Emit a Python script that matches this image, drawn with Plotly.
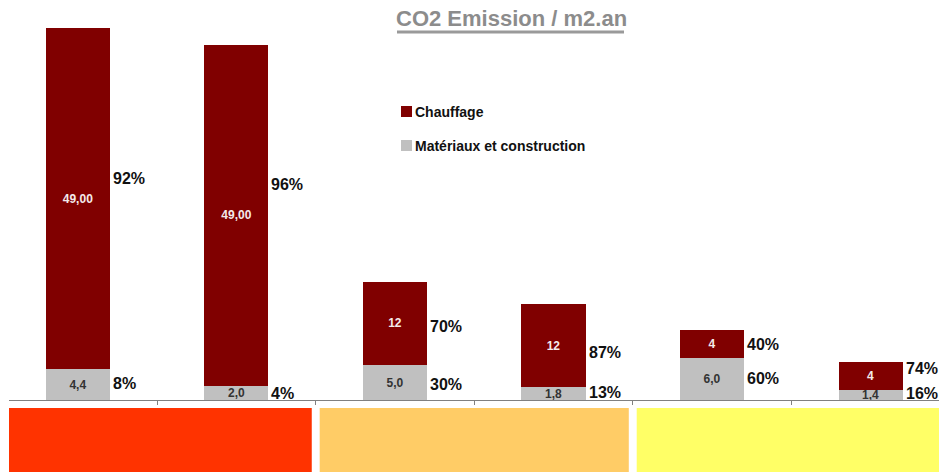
import plotly.graph_objects as go

# ---- data ----
categories = ["A1", "A2", "B1", "B2", "C1", "C2"]
materiaux = [4.4, 2.0, 5.0, 1.8, 6.0, 1.4]
chauffage = [49.0, 49.0, 12.0, 12.0, 4.0, 4.0]
materiaux_labels = ["4,4", "2,0", "5,0", "1,8", "6,0", "1,4"]
chauffage_labels = ["49,00", "49,00", "12", "12", "4", "4"]
pct_chauffage = ["92%", "96%", "70%", "87%", "40%", "74%"]
pct_materiaux = ["8%", "4%", "30%", "13%", "60%", "16%"]
group_colors = ["#FF3300", "#FFCC66", "#FFFF66"]

FONT = "Liberation Sans, Arial, sans-serif"
RED = "#800000"
GREY = "#C0C0C0"
BAR_W = 0.404

fig = go.Figure()
fig.add_trace(go.Bar(
    x=categories, y=materiaux, name="Matériaux et construction",
    marker=dict(color=GREY, line=dict(width=0)), width=BAR_W,
    text=materiaux_labels, textposition="inside", insidetextanchor="middle",
    textangle=0, constraintext="none",
    textfont=dict(family=FONT, size=12, color="#333333", weight="bold"),
    showlegend=False, hoverinfo="skip"))
fig.add_trace(go.Bar(
    x=categories, y=chauffage, name="Chauffage",
    marker=dict(color=RED, line=dict(width=0)), width=BAR_W,
    text=chauffage_labels, textposition="inside", insidetextanchor="middle",
    textangle=0, constraintext="none",
    textfont=dict(family=FONT, size=12, color="#F4EAEA", weight="bold"),
    showlegend=False, hoverinfo="skip"))

# percentage labels right of bars (vertical nudges in px)
heat_shift = [20, 31, -3, -7, 0, 8]
mat_shift = [1, 0, -2, 1, 1, 2]
annotations = []
for i in range(len(categories)):
    annotations.append(dict(
        x=i + BAR_W / 2, y=materiaux[i] + chauffage[i] / 2, xref="x", yref="y",
        text=pct_chauffage[i], showarrow=False, xanchor="left", yanchor="middle",
        xshift=1, yshift=heat_shift[i],
        font=dict(family=FONT, size=16, color="#111111", weight="bold")))
    annotations.append(dict(
        x=i + BAR_W / 2, y=materiaux[i] / 2, xref="x", yref="y",
        text=pct_materiaux[i], showarrow=False, xanchor="left", yanchor="middle",
        xshift=1, yshift=mat_shift[i],
        font=dict(family=FONT, size=16, color="#111111", weight="bold")))

# title
annotations.append(dict(
    x=511 / 939, y=(400 - 19) / 400, xref="paper", yref="paper",
    text="CO2 Emission / m2.an", showarrow=False, xanchor="center", yanchor="middle",
    font=dict(family=FONT, size=22, color="#8C8C8C", weight="bold")))

# manual legend
legend_items = [("Chauffage", RED), ("Matériaux et construction", GREY)]
shapes = []
for k, (name, col) in enumerate(legend_items):
    yc = 112 + 34 * k
    shapes.append(dict(type="rect", xref="paper", yref="paper",
                       x0=401 / 939, x1=412 / 939,
                       y0=(400 - (yc - 6)) / 400, y1=(400 - (yc + 5)) / 400,
                       fillcolor=col, line=dict(width=0)))
    annotations.append(dict(
        x=413 / 939, y=(400 - yc) / 400, xref="paper", yref="paper",
        text=name, showarrow=False, xanchor="left", yanchor="middle",
        font=dict(family=FONT, size=14, color="#111111", weight="bold")))

# title underline
shapes.append(dict(type="line", xref="paper", yref="paper",
                   x0=397 / 939, x1=624 / 939, y0=(400 - 32) / 400, y1=(400 - 32) / 400,
                   line=dict(color="#9A9A9A", width=3)))

# coloured group bands below the axis
gap = 0.025
for g, col in enumerate(group_colors):
    shapes.append(dict(type="rect", xref="x", yref="paper",
                       x0=2 * g - 0.5 + gap, x1=2 * g + 1.5 - gap + (0.3 if g == 2 else 0),
                       y0=-(408 - 400) / 400, y1=-0.3,
                       fillcolor=col, line=dict(width=0), layer="below"))

fig.update_layout(
    width=939, height=472,
    margin=dict(l=0, r=0, t=0, b=72),
    barmode="stack", bargap=0.6,
    plot_bgcolor="white", paper_bgcolor="white",
    showlegend=False,
    annotations=annotations, shapes=shapes,
    xaxis=dict(type="category", range=[-0.435, 5.432], domain=[9 / 939, 1],
               showticklabels=False, showgrid=False, zeroline=False,
               showline=True, linecolor="#808080", linewidth=1,
               ticks="outside", tickson="boundaries", ticklen=4, tickcolor="#808080",
               fixedrange=True),
    yaxis=dict(range=[0, 400 / 6.97], visible=False, showgrid=False, fixedrange=True),
)

fig.write_html("out.html", config={"displayModeBar": False},
               post_script="document.body.style.margin='0px';document.body.style.overflow='hidden';")
